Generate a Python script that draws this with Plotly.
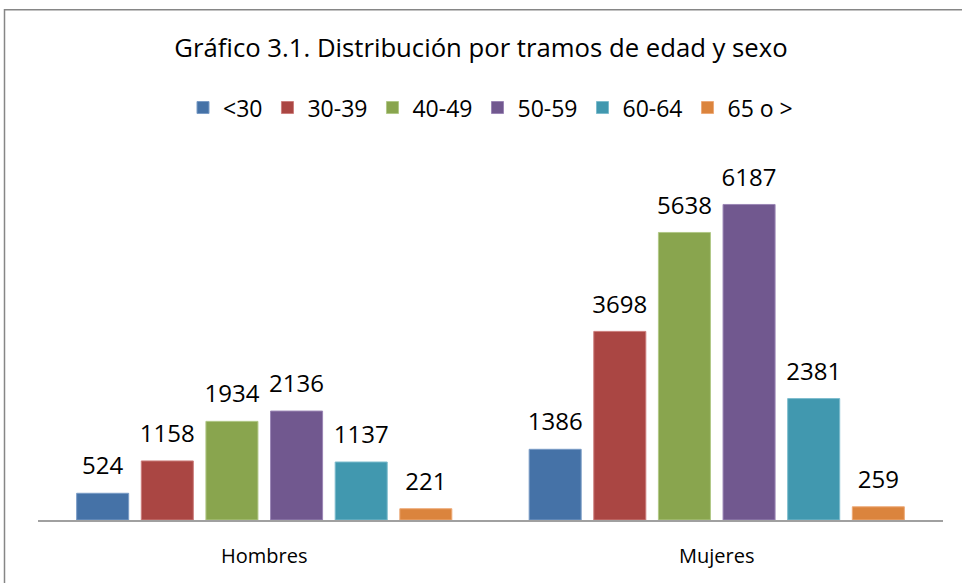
import plotly.graph_objects as go

categories = ["Hombres", "Mujeres"]
series_names = ["<30", "30-39", "40-49", "50-59", "60-64", "65 o >"]
values = {
    "<30": [524, 1386],
    "30-39": [1158, 3698],
    "40-49": [1934, 5638],
    "50-59": [2136, 6187],
    "60-64": [1137, 2381],
    "65 o >": [221, 259],
}
colors = ["#4572A7", "#AA4643", "#89A54E", "#71588F", "#4198AF", "#DB843D"]
edge_colors = ["#7A9CC6", "#CC7E7C", "#B1C887", "#9B86B5", "#7DBCCD", "#EDAA78"]

FONT = "Open Sans"

fig = go.Figure()
for name, c, ec in zip(series_names, colors, edge_colors):
    fig.add_trace(go.Bar(
        name=name, x=categories, y=values[name],
        marker=dict(color=c, line=dict(color=ec, width=1)),
        offsetgroup=name, hoverinfo="name+y",
    ))
# value labels, grouped to sit over their bars
for name in series_names:
    fig.add_trace(go.Scatter(
        x=categories, y=values[name], mode="markers+text",
        text=[str(v) for v in values[name]], textposition="top center",
        textfont=dict(family=FONT, size=24, color="#000000"),
        marker=dict(size=19, opacity=0),
        offsetgroup=name, showlegend=False, hoverinfo="skip", cliponaxis=False,
    ))

fig.update_layout(
    width=962, height=583,
    margin=dict(l=38, r=19, t=162.5, b=63),
    paper_bgcolor="white", plot_bgcolor="white",
    barmode="group", bargap=0.143, bargroupgap=0.195,
    scattermode="group", scattergap=0.143,
    title=dict(text="Gráfico 3.1. Distribución por tramos de edad y sexo",
               x=0.5, xanchor="center", y=1 - 48 / 583, yanchor="middle", yref="container",
               font=dict(family=FONT, size=25.7, color="#000000")),
    legend=dict(orientation="h", x=0.5, xanchor="center", y=(520 - 107) / 357.5, yanchor="middle",
                font=dict(family=FONT, size=23, color="#000000"),
                itemwidth=30, tracegroupgap=0),
    showlegend=True,
    xaxis=dict(showline=True, linecolor="#A0A0A0", linewidth=1.5, ticks="",
               tickfont=dict(family=FONT, size=20, color="#000000"),
               ticklabelstandoff=17, showgrid=False, zeroline=False),
    yaxis=dict(range=[0, 7000], visible=False, showgrid=False, zeroline=False),
    shapes=[dict(type="rect", xref="paper", yref="paper",
                 x0=(4.5 - 38) / 905, x1=1.2, y0=-0.5, y1=(520 - 9) / 357.5,
                 line=dict(color="#868686", width=1.5), fillcolor="rgba(0,0,0,0)", layer="below")],
)

fig.write_html("out.html", config={"displayModeBar": False},
               post_script="document.body.style.margin='0';")
